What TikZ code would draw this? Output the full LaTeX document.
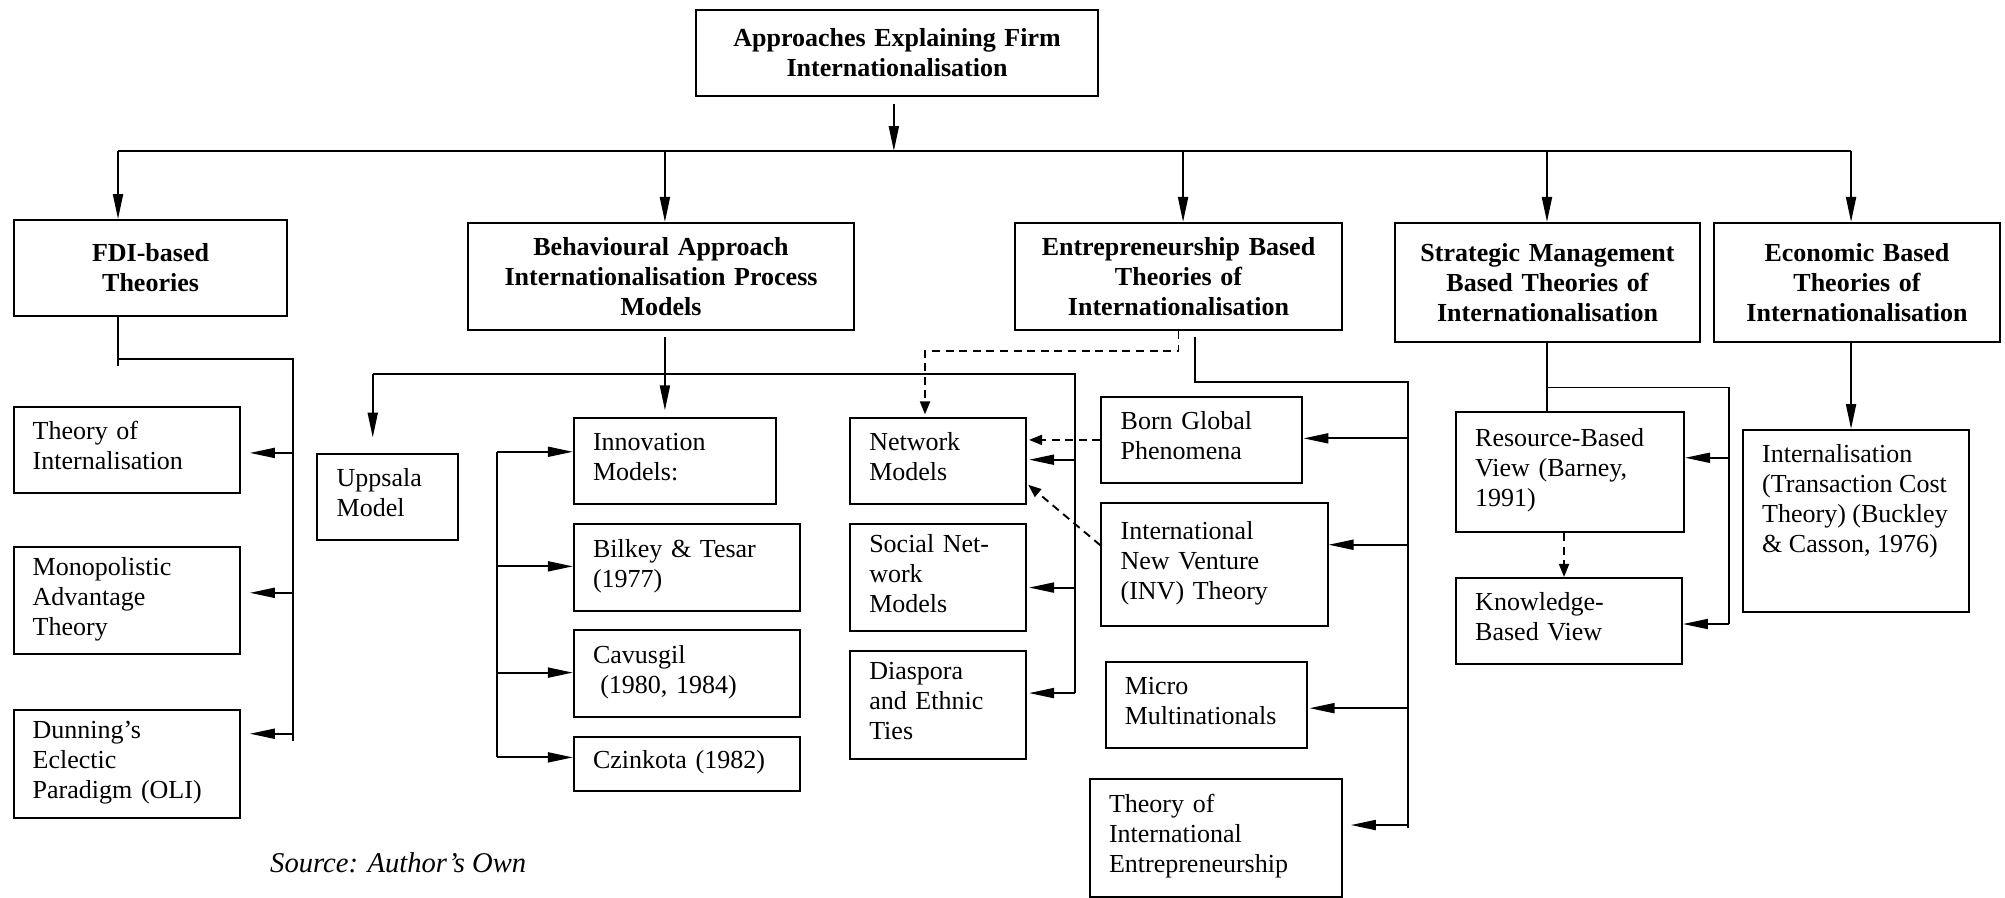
\documentclass[tikz,border=0pt]{standalone}
\usepackage{fontspec}
\setmainfont{Liberation Serif}
\usetikzlibrary{arrows.meta,calc}

% one drawing unit in pt
\def\upt{0.6394}

\tikzset{
  box/.style={draw, line width=1pt, inner ysep=0pt, inner xsep=9.6pt,
              font=\fontsize{13}{15}\selectfont},
  head/.style={box, align=center, font=\fontsize{13}{15}\selectfont\bfseries},
  leaf/.style={box, align=left, execute at end node={\rule[-4.2pt]{0pt}{0pt}}},
  conn/.style={line width=0.95pt},
  arr/.style={conn, -{Triangle[length=12.5pt,width=5pt]}},
  darr/.style={conn, dash pattern=on 4pt off 2.8pt, -{Triangle[length=6.5pt,width=5pt]}},
}

% box from its corners: [style]{name}{x1}{y1}{x2}{y2}{text}
\newcommand{\bx}[7][leaf]{%
  \pgfmathsetmacro\bw{(#5-#3)*\upt}%
  \pgfmathsetmacro\bh{(#6-#4)*\upt}%
  \pgfmathsetmacro\tw{\bw-19.2}%
  \node[#1, text width=\tw pt, minimum width=\bw pt, minimum height=\bh pt,
        anchor=north west] (#2) at (#3,#4) {#7};}

\begin{document}
\begin{tikzpicture}[x=0.6394pt, y=-0.6394pt]
\useasboundingbox (0,0) rectangle (1568,701.5);

% ---------- top level ----------
\bx[head]{top}{543.5}{7}{858}{74}{Approaches Explaining Firm\\Internationalisation}

\bx[head]{fdi}{10.2}{171.3}{223.7}{246.4}{FDI-based\\Theories}
\bx[head]{behav}{365.2}{173.6}{667.1}{257.3}{Behavioural Approach\\Internationalisation Process\\Models}
\bx[head]{entre}{793}{173.6}{1048.7}{257.3}{Entrepreneurship Based\\Theories of\\Internationalisation}
\bx[head]{strat}{1090.2}{173.6}{1328.7}{266.7}{Strategic Management\\Based Theories of\\Internationalisation}
\bx[head]{econ}{1339.6}{173.6}{1563.3}{266.7}{Economic Based\\Theories of\\Internationalisation}

% ---------- FDI-based theories ----------
\bx{toi}{9.8}{317.4}{186.8}{384.8}{Theory of\\Internalisation}
\bx{mon}{9.8}{427}{186.8}{511}{Monopolistic\\Advantage\\Theory}
\bx{dun}{9.8}{554.7}{186.8}{638.7}{Dunning’s\\Eclectic\\Paradigm (OLI)}

% ---------- behavioural approach ----------
\bx{upp}{247.5}{353.9}{357.2}{421.3}{Uppsala\\Model}
\bx{innov}{448}{326.4}{606}{393}{Innovation\\Models:}
\bx{bil}{448}{409}{625}{477}{Bilkey \& Tesar\\(1977)}
\bx{cav}{448}{492}{625}{560}{Cavusgil\\\hspace*{3.6pt}(1980, 1984)}
\bx{czi}{448}{575.4}{625}{617.7}{Czinkota (1982)}
\bx{net}{664}{326.4}{801.6}{393}{Network\\Models}
\bx{soc}{664}{409}{801.6}{493}{Social Net-\\work\\Models}
\bx{dia}{664}{508.7}{801.6}{592.4}{Diaspora\\and Ethnic\\Ties}

% ---------- entrepreneurship ----------
\bx{born}{860.6}{309.7}{1017.8}{376.8}{Born Global\\Phenomena}
\bx{inv}{860.6}{392.3}{1037.4}{488.8}{International\\New Venture\\(INV) Theory}
\bx{mic}{863.8}{517.3}{1021}{583.8}{Micro\\Multinationals}
\bx{tie}{851.5}{608.2}{1048.6}{700.6}{Theory of\\International\\Entrepreneurship}

% ---------- strategic management ----------
\bx{rbv}{1137.9}{321.4}{1316.2}{415.3}{Resource-Based\\View (Barney,\\1991)}
\bx{kbv}{1137.9}{451.2}{1314.6}{518.5}{Knowledge-\\Based View}

% ---------- economic ----------
\bx[box]{eint}{1362.3}{335.5}{1539}{477.8}{}
\node[anchor=north west, align=left, inner sep=0pt,
      font=\fontsize{13}{15}\selectfont] (einttxt) at (1377.8,347.5)
  {Internalisation\\(Transaction Cost\\Theory) (Buckley\\\&~Casson, 1976)};

% ---------- source line ----------
\node[anchor=west, inner sep=0pt, font=\fontsize{14.3}{16}\selectfont\itshape]
  (src) at (211,674.7) {Source: Author’s Own};

% ---------- main bus ----------
\coordinate (bus) at (0,118.1);
\coordinate (bF) at (92.3,118.1);
\coordinate (bB) at (520,118.1);
\coordinate (bN) at (925.2,118.1);
\coordinate (bS) at (1209.8,118.1);
\coordinate (bE) at (1447.6,118.1);
\draw[arr, shorten <=3.8pt] ([xshift=-1.6pt]top.south) -- ([xshift=-1.6pt]top.south |- bus);
\draw[conn] (bF) -- (bE);
\foreach \c/\n in {bF/fdi,bB/behav,bN/entre,bS/strat,bE/econ}
  \draw[arr] (\c) -- (\c |- \n.north);

% ---------- FDI branch ----------
\coordinate (fJ) at (92.3,281);
\coordinate (fR) at (229.4,281);
\coordinate (fB) at (229.4,579.2);
\coordinate (f1) at (229.4,354.2);
\coordinate (f2) at (229.4,463.6);
\coordinate (f3) at (229.4,573.8);
\draw[conn] (bF |- fdi.south) -- ++(0,38.4);
\draw[conn] (fJ) -- (fR) -- (fB);
\draw[arr, shorten >=4.5pt] (f1) -- (f1 -| toi.east);
\draw[arr, shorten >=4.5pt] (f2) -- (f2 -| mon.east);
\draw[arr, shorten >=4.5pt] (f3) -- (f3 -| dun.east);

% ---------- behavioural branch ----------
\coordinate (hJ) at (520,292.8);
\coordinate (hL) at (291.5,292.8);
\coordinate (hR) at (841,292.8);
\coordinate (hB) at (841,542);
\coordinate (h1) at (841,359.5);
\coordinate (h2) at (841,459.5);
\draw[arr, shorten <=3.2pt, shorten >=3.5pt] (hJ |- behav.south) -- (hJ |- innov.north);
\draw[conn] (hL) -- (hR) -- (hB);
\draw[arr, shorten >=7.5pt] (hL) -- (hL |- upp.north);
\draw[arr, shorten >=1pt] (h1) -- (h1 -| net.east);
\draw[arr, shorten >=1pt] (h2) -- (h2 -| soc.east);
\draw[arr, shorten >=1pt] (hB) -- (hB -| dia.east);

% innovation models bracket
\coordinate (iT) at (388.6,353.3);
\coordinate (i2) at (388.6,442.9);
\coordinate (i3) at (388.6,526);
\coordinate (iB) at (388.6,592.3);
\draw[conn] (iT) -- (iB);
\draw[arr] (iT) -- (iT -| innov.west);
\draw[arr] (i2) -- (i2 -| bil.west);
\draw[arr] (i3) -- (i3 -| cav.west);
\draw[arr] (iB) -- (iB -| czi.west);

% ---------- entrepreneurship branch ----------
\coordinate (dJ) at (723.4,274.4);
\draw[darr, shorten >=1.5pt] (entre.south) |- (dJ) -- (dJ |- net.north);
\coordinate (eJ) at (934.8,298.6);
\coordinate (eR) at (1101,298.6);
\coordinate (eB) at (1101,647.6);
\coordinate (e1) at (1101,342.8);
\coordinate (e2) at (1101,426);
\coordinate (e3) at (1101,553.8);
\coordinate (e4) at (1101,645.2);
\draw[conn, shorten <=3.2pt] (eJ |- entre.south) -- (eJ) -- (eR) -- (eB);
\draw[arr] (e1) -- (e1 -| born.east);
\draw[arr] (e2) -- (e2 -| inv.east);
\draw[arr, shorten >=1pt] (e3) -- (e3 -| mic.east);
\draw[arr, shorten >=4pt] (e4) -- (e4 -| tie.east);
\draw[darr, shorten >=1pt] (born.west) -- (born.west -| net.east);
\draw[darr, shorten >=0.8pt] ([yshift=9.5pt]inv.west) -- ([yshift=10.4pt]net.south east);

% ---------- strategic management branch ----------
\coordinate (sJ) at (1209.8,303);
\coordinate (sR) at (1352,303);
\coordinate (sB) at (1352,488);
\coordinate (s1) at (1352,358);
\draw[conn] (sJ |- strat.south) -- (sJ |- rbv.north);
\draw[conn] (sJ) -- (sR) -- (sB);
\draw[arr] (s1) -- (s1 -| rbv.east);
\draw[arr] (sB) -- (sB -| kbv.east);
\draw[darr] ([xshift=-3pt]rbv.south) -- ([xshift=-3pt]rbv.south |- kbv.north);

% ---------- economic branch ----------
\draw[arr] (bE |- econ.south) -- (bE |- eint.north);

\end{tikzpicture}
\end{document}
